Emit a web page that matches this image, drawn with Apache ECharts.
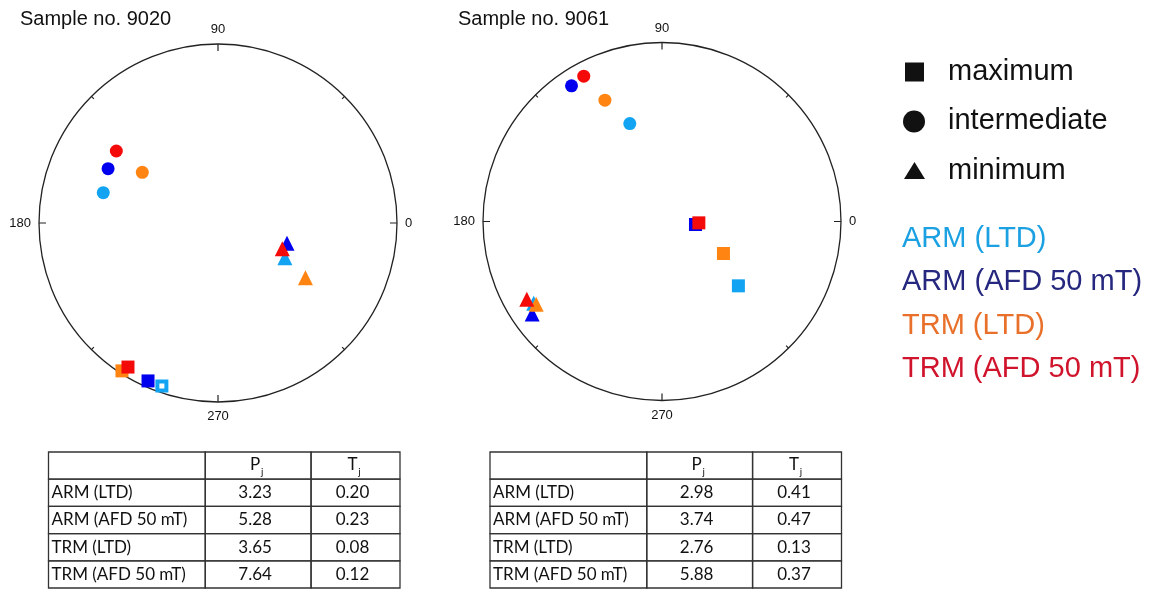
<!DOCTYPE html>
<html><head><meta charset="utf-8">
<script src="https://cdn.jsdelivr.net/npm/echarts@6/dist/echarts.min.js"></script>
<style>html,body{margin:0;padding:0;background:#fff}#c{width:1156px;height:590px}</style>
</head><body><div id="c"></div>
<script>
// ---------- data ----------
const sampleTitles = ['Sample no. 9020', 'Sample no. 9061'];
const datasetNames = ['ARM (LTD)', 'ARM (AFD 50 mT)', 'TRM (LTD)', 'TRM (AFD 50 mT)'];
const axisNames = ['maximum', 'intermediate', 'minimum'];
const angleLabels = [0, 90, 180, 270];
// each entry: [azimuth (deg, counter-clockwise from 0 at right), radial distance (fraction of net radius)]
const s9020Max = [[251.0, 0.963], [246.1, 0.965], [237.0, 0.985], [238.0, 0.949]];
const s9020Int = [[165.2, 0.663], [153.7, 0.685], [146.2, 0.509], [144.7, 0.696]];
const s9020Min = [[332.6, 0.421], [343.6, 0.402], [328.0, 0.576], [338.2, 0.387]];
const s9061Max = [[319.9, 0.558], [354.9, 0.188], [332.5, 0.387], [357.9, 0.206]];
const s9061Int = [[108.2, 0.576], [123.7, 0.911], [115.2, 0.749], [118.3, 0.922]];
const s9061Min = [[212.5, 0.850], [215.5, 0.891], [213.3, 0.841], [209.9, 0.871]];
const s9020OpenMax = [true, false, false, false];
const s9061OpenMax = [false, false, false, false];
const tableHeader = ['', 'P', 'T'];
const tableSub = ['', 'j', 'j'];
const pj9020 = [3.23, 5.28, 3.65, 7.64];
const tj9020 = [0.20, 0.23, 0.08, 0.12];
const pj9061 = [2.98, 3.74, 2.76, 5.88];
const tj9061 = [0.41, 0.47, 0.13, 0.37];

// ---------- styles / layout ----------
const pointColors = ['#12A4F2', '#0000EE', '#FF8412', '#F50A0A'];
const legendColors = ['#1BA1E2', '#25287E', '#E8702A', '#D0142C'];
const symbols = ['rect', 'circle', 'triangle'];
const symbolSizes = [13, 13, 15];
const netCenters = [[218, 223], [662, 221.5]];
const netRadius = 179;
const tableGrids = [{left: 48.5, top: 452, width: 351.5, height: 136}, {left: 490, top: 452, width: 351.5, height: 136}];
const colEdges = [0, 0.446, 0.747, 1];
const SANS = '"Liberation Sans", Arial, sans-serif';
const TFONT = 'Lato, "Open Sans", sans-serif';
const TSIZE = 17;

const sampleData = [
  {max: s9020Max, int: s9020Int, min: s9020Min, open: s9020OpenMax, pj: pj9020, tj: tj9020},
  {max: s9061Max, int: s9061Int, min: s9061Min, open: s9061OpenMax, pj: pj9061, tj: tj9061}
];

const polar = [], angleAxis = [], radiusAxis = [], series = [];
const grid = [], xAxis = [], yAxis = [];

sampleData.forEach((s, si) => {
  polar.push({center: netCenters[si], radius: netRadius});
  angleAxis.push({
    polarIndex: si, type: 'value', min: 0, max: 360, interval: 90,
    startAngle: 0, clockwise: false,
    axisLine: {lineStyle: {color: '#222', width: 1.3}},
    axisTick: {inside: true, length: 7, lineStyle: {color: '#222', width: 1.2}},
    minorTick: {show: true, splitNumber: 2, length: 3.5, lineStyle: {color: '#222', width: 1.2}},
    axisLabel: {margin: 8, fontSize: 13, color: '#111', fontFamily: SANS,
      formatter: v => angleLabels.indexOf(v) >= 0 ? String(v) : ''},
    splitLine: {show: false}, minorSplitLine: {show: false}, splitArea: {show: false}
  });
  radiusAxis.push({polarIndex: si, type: 'value', min: 0, max: 1, show: false,
    axisLine: {show: false}, axisTick: {show: false}, axisLabel: {show: false}, splitLine: {show: false}});

  datasetNames.forEach((name, di) => {
    const pts = [s.max[di], s.int[di], s.min[di]];
    series.push({
      type: 'scatter', coordinateSystem: 'polar', polarIndex: si, name: name,
      silent: true, animation: false,
      data: pts.map((p, k) => {
        const item = {value: [p[1], p[0]], symbol: symbols[k], symbolSize: symbolSizes[k],
          itemStyle: {color: pointColors[di], opacity: 1}};
        if (k === 0 && s.open[di]) {
          item.itemStyle = {color: '#fff', borderColor: pointColors[di], borderWidth: 4, opacity: 1};
          item.symbolSize = 9;
        }
        return item;
      })
    });
  });

  // table
  grid.push(Object.assign({containLabel: false}, tableGrids[si]));
  xAxis.push({gridIndex: si, type: 'value', min: 0, max: 1, show: false});
  yAxis.push({gridIndex: si, type: 'category', inverse: true, show: false,
    data: ['h'].concat(datasetNames)});
  const cells = [];
  for (let c = 0; c < 3; c++) cells.push({col: c, row: 0, text: tableHeader[c], sub: tableSub[c]});
  datasetNames.forEach((n, r) => {
    cells.push({col: 0, row: r + 1, text: n});
    cells.push({col: 1, row: r + 1, text: s.pj[r].toFixed(2)});
    cells.push({col: 2, row: r + 1, text: s.tj[r].toFixed(2)});
  });
  series.push({
    type: 'custom', xAxisIndex: si, yAxisIndex: si, silent: true, animation: false, clip: false,
    data: cells.map(c => [c.col, c.row]),
    renderItem: (params, api) => {
      const cell = cells[params.dataIndex];
      const x0 = api.coord([colEdges[cell.col], cell.row])[0];
      const x1 = api.coord([colEdges[cell.col + 1], cell.row])[0];
      const yc = api.coord([0, cell.row])[1];
      const h = api.size([0, 1])[1];
      const children = [{type: 'rect', shape: {x: x0, y: yc - h / 2, width: x1 - x0, height: h},
        style: {fill: null, stroke: '#333', lineWidth: 1.3}}];
      if (cell.row === 0) {
        if (cell.text) {
          const cx = (x0 + x1) / 2;
          children.push({type: 'text', x: cx - 3, y: yc - 1,
            style: {text: cell.text, fill: '#111', fontSize: TSIZE, fontFamily: TFONT, align: 'center', verticalAlign: 'middle'}});
          children.push({type: 'text', x: cx + 4, y: yc + 6,
            style: {text: cell.sub, fill: '#111', fontSize: 10, fontFamily: TFONT, align: 'center', verticalAlign: 'middle'}});
        }
      } else if (cell.col === 0) {
        children.push({type: 'text', x: x0 + 3, y: yc,
          style: {text: cell.text, fill: '#111', fontSize: TSIZE, fontFamily: TFONT, align: 'left', verticalAlign: 'middle'}});
      } else {
        children.push({type: 'text', x: (x0 + x1) / 2 - 3, y: yc,
          style: {text: cell.text, fill: '#111', fontSize: TSIZE, fontFamily: TFONT, align: 'center', verticalAlign: 'middle'}});
      }
      return {type: 'group', children: children};
    }
  });
});

// legend (graphic)
const legendShapes = [
  {type: 'rect', shape: {x: 905, y: 62.5, width: 19, height: 19}, style: {fill: '#111'}},
  {type: 'circle', shape: {cx: 914, cy: 121.5, r: 11}, style: {fill: '#111'}},
  {type: 'polygon', shape: {points: [[904, 179], [925, 179], [914.5, 162]]}, style: {fill: '#111'}}
];
const legendTextY = [72, 121, 171];
const colorTextY = [239, 282, 326, 369];
const graphic = legendShapes.slice();
axisNames.forEach((n, i) => graphic.push({type: 'text', x: 948, y: legendTextY[i],
  style: {text: n, fill: '#111', fontSize: 29, fontFamily: SANS, align: 'left', verticalAlign: 'middle'}}));
datasetNames.forEach((n, i) => graphic.push({type: 'text', x: 902, y: colorTextY[i],
  style: {text: n, fill: legendColors[i], fontSize: 29, fontFamily: SANS, align: 'left', verticalAlign: 'middle'}}));

const chart = echarts.init(document.getElementById('c'), null, {renderer: 'canvas'});
chart.setOption({
  backgroundColor: '#fff',
  animation: false,
  title: [
    {text: sampleTitles[0], left: 20, top: 9, padding: 0, textStyle: {fontSize: 20, fontWeight: 'normal', color: '#111', fontFamily: SANS}},
    {text: sampleTitles[1], left: 458, top: 9, padding: 0, textStyle: {fontSize: 20, fontWeight: 'normal', color: '#111', fontFamily: SANS}}
  ],
  polar, angleAxis, radiusAxis, grid, xAxis, yAxis, series, graphic
});
</script></body></html>
